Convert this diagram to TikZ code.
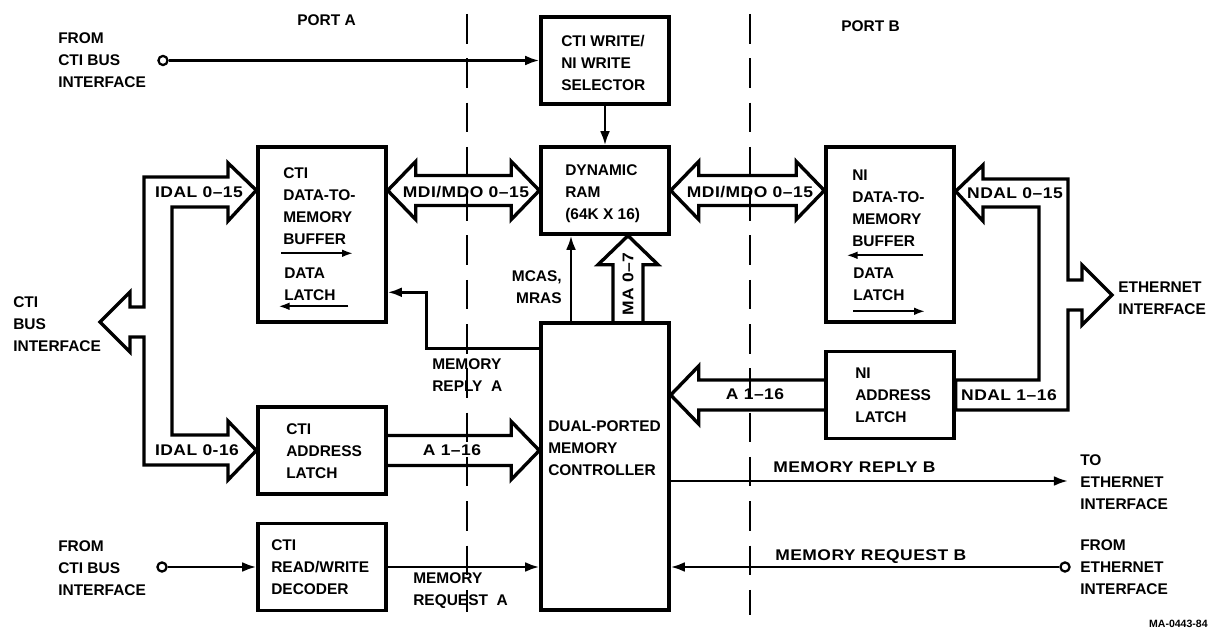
\documentclass[tikz,border=0pt]{standalone}
\usepackage{fontspec}
\setmainfont{Liberation Sans}
\usetikzlibrary{calc,arrows.meta}
\newcommand\lblfont{\fontsize{11}{15.65}\selectfont\bfseries}
\newcommand\widefont{\lblfont\addfontfeatures{FakeStretch=1.13,LetterSpace=3}}
\begin{document}
\begin{tikzpicture}[x=0.025cm,y=-0.025cm,
  box/.style={draw,line width=2.4pt,inner sep=0pt,minimum width=3.2cm},
  boxs/.style={box,minimum height=2.175cm},
  boxl/.style={box,minimum height=4.375cm},
  txt/.style={font=\lblfont,align=left,inner sep=0pt,anchor=north west},
  lbl/.style={font=\widefont,inner sep=0pt,anchor=center},
  fat/.style={draw,line width=2.4pt,line join=miter},
  sig/.style={line width=1.8pt,-{Latex[length=10pt,width=7pt]}},
  inner/.style={line width=1.6pt,-{Latex[length=8pt,width=5.5pt]}},
  divider/.style={line width=1.7pt,dash pattern=on 21pt off 10.5pt},
  term/.style={circle,draw,line width=1.6pt,inner sep=0pt,minimum size=6.5pt,fill=white}]
\fill[white] (0,0) rectangle (1213,629);
\useasboundingbox (0,0) rectangle (1213,629);

% port dividers
\draw[divider] (467,14) -- (467,612);
\draw[divider] (750,14) -- (750,615);

% boxes
\node[boxs] (sel)  at (605,60.5) {};
\node[boxs] (ram)  at (605,190.5) {};
\node[boxl] (cbuf) at (322,234.5) {};
\node[boxl] (nbuf) at (890,234.5) {};
\node[boxs] (clat) at (322,450.5) {};
\node[boxs] (dec)  at (322,567) {};
\node[box,minimum height=7.175cm] (ctrl) at (605,466.5) {};
\node[boxs] (nlat) at (890,395) {};

% box texts
\node[txt] (selT) at (561,35) {CTI WRITE/\\NI WRITE\\SELECTOR};
\node[txt] (ramT) at (565,164.5) {DYNAMIC\\RAM\\(64K X 16)};
\node[txt] (cbufT) at (283,167.5) {CTI\\DATA-TO-\\MEMORY\\BUFFER};
\node[txt] (cbufL) at (284,267.5) {DATA\\LATCH};
\node[txt] (nbufT) at (852,169.5) {NI\\DATA-TO-\\MEMORY\\BUFFER};
\node[txt] (nbufL) at (853,267.5) {DATA\\LATCH};
\node[txt] (clatT) at (286,423.5) {CTI\\ADDRESS\\LATCH};
\node[txt] (decT) at (271,539.5) {CTI\\READ/WRITE\\DECODER};
\node[txt] (ctrlT) at (548,420.5) {DUAL-PORTED\\MEMORY\\CONTROLLER};
\node[txt] (nlatT) at (855,367.5) {NI\\ADDRESS\\LATCH};

% arrows inside buffers
\draw[inner] ($(cbuf.north west)+(25,108)$) -- ($(cbuf.north west)+(97,108)$);
\draw[inner] ($(cbuf.north west)+(92,161)$) -- ($(cbuf.north west)+(22,161)$);
\draw[inner] ($(nbuf.north west)+(99,110)$) -- ($(nbuf.north west)+(22,110)$);
\draw[inner] ($(nbuf.north west)+(29,166)$) -- ($(nbuf.north west)+(101,166)$);

% outer texts
\node[txt] (portA) at (297,14.5) {PORT A};
\node[txt] (portB) at (841,20.5) {PORT B};
\node[txt] (fromCtiTop) at (58,32) {FROM\\CTI BUS\\INTERFACE};
\node[txt] (fromCtiBot) at (58,540.5) {FROM\\CTI BUS\\INTERFACE};
\node[txt] (ctiBus) at (13,296.5) {CTI\\BUS\\INTERFACE};
\node[txt] (ethBus) at (1118,281.5) {ETHERNET\\INTERFACE};
\node[txt] (toEth) at (1080,454.5) {TO\\ETHERNET\\INTERFACE};
\node[txt] (fromEth) at (1080,539.5) {FROM\\ETHERNET\\INTERFACE};
\node[font=\lblfont,align=right,inner sep=0pt,anchor=north east] (mcasT) at (562,270.5) {MCAS,\\MRAS};
\node[txt] (mrA) at (432,358.5) {MEMORY\\REPLY\ \ A};
\node[txt] (mreqA) at (413,572.5) {MEMORY\\REQUEST\ \ A};
\node[txt,font=\widefont] (mrB) at (773,461.5) {MEMORY REPLY B};
\node[txt,font=\widefont] (mreqB) at (775,549.5) {MEMORY REQUEST B};
\node[font=\fontsize{7.5}{9}\selectfont\bfseries,inner sep=0pt,anchor=base east] (code) at (1208,627) {MA-0443-84};

% terminals
\node[term] (t1) at (163,60.5) {};
\node[term] (t2) at (162,567) {};
\node[term] (t3) at (1065,567) {};
\coordinate (toEthEnd) at (1068,481);

% thin signals
\draw[sig] (t1) -- (sel);
\draw[sig] (sel) -- (ram);
\draw[sig] (t2) -- (dec);
\draw[sig] (dec) -- (ctrl.west |- dec.east);
\draw[sig] (t3) -- (ctrl.east |- t3);
\draw[sig] (ctrl.east |- toEthEnd) -- (toEthEnd);
\draw[sig] ($(ctrl.north)+(-34,0)$) -- ($(ram.south)+(-34,0)$);
\draw[sig] ($(ctrl.north west)+(0,27)$) -- ++(-113,0) |- ($(cbuf.north east)+(0,147)$);

% left CTI bus
\draw[fat] (100,322) -- (130,292) -- (130,307) -- (144,307) -- (144,177) -- (228,177) -- (228,163)
  -- ($(cbuf.north west)+(0,45)$) -- (228,221) -- (228,207) -- (172,207) -- (172,435) -- (228,435)
  -- (228,421) -- (clat.west) -- (228,480) -- (228,465) -- (144,465) -- (144,337) -- (130,337)
  -- (130,352) -- cycle;
\node[lbl] (idal1) at (199,192) {IDAL 0–15};
\node[lbl] (idal2) at (197,450) {IDAL 0-16};

% right Ethernet bus
\draw[fat] (1112,295) -- (1082,265) -- (1082,280) -- (1068,280) -- (1068,179) -- (983,179) -- (983,165)
  -- ($(nbuf.north east)+(0,46)$) -- (983,221) -- (983,207) -- (1039,207) -- (1039,380)
  -- ($(nlat.east)+(0,-15)$) -- ($(nlat.east)+(0,15)$) -- (1068,410) -- (1068,310) -- (1082,310)
  -- (1082,325) -- cycle;
\node[lbl] (ndal1) at (1015,193) {NDAL 0–15};
\node[lbl] (ndal2) at (1009,395) {NDAL 1–16};

% MDI/MDO left
\coordinate (mdiL) at (cbuf.east |- ram.west);
\draw[fat] (mdiL) -- ++(28,-29) -- ++(0,14) -- ($(ram.west)+(-28,-15)$) -- ++(0,-14) -- (ram.west)
  -- ++(-28,29) -- ++(0,-14) -- ($(mdiL)+(28,15)$) -- ++(0,14) -- cycle;
\node[lbl] (mdi1) at (466,192) {MDI/MDO 0–15};

% MDI/MDO right
\coordinate (mdiR) at (nbuf.west |- ram.east);
\draw[fat] (ram.east) -- ++(28,-29) -- ++(0,14) -- ($(mdiR)+(-28,-15)$) -- ++(0,-14) -- (mdiR)
  -- ++(-28,29) -- ++(0,-14) -- ($(ram.east)+(28,15)$) -- ++(0,14) -- cycle;
\node[lbl] (mdi2) at (750,192) {MDI/MDO 0–15};

% MA 0-7
\coordinate (maT) at ($(ram.south)+(23,0)$);
\coordinate (maB) at (maT |- ctrl.north);
\draw[fat] ($(maB)+(-15,0)$) -- ($(maT)+(-15,29)$) -- ++(-15,0) -- (maT) -- ++(30,29) -- ++(-15,0)
  -- ($(maB)+(15,0)$);
\node[lbl,rotate=90] (ma) at ($(maB)+(0,-37)$) {MA 0–7};

% A 1-16 left
\coordinate (aL) at (ctrl.west |- clat.east);
\draw[fat] ($(clat.east)+(0,-15)$) -- ($(aL)+(-28,-15)$) -- ++(0,-14) -- (aL) -- ++(-28,29)
  -- ++(0,-14) -- ($(clat.east)+(0,15)$);
\node[lbl] (a1) at (452,450) {A 1–16};

% A 1-16 right
\coordinate (aR) at (ctrl.east |- nlat.west);
\draw[fat] ($(nlat.west)+(0,-15)$) -- ($(aR)+(28,-15)$) -- ++(0,-14) -- (aR) -- ++(28,29)
  -- ++(0,-14) -- ($(nlat.west)+(0,15)$);
\node[lbl] (a2) at (755,394) {A 1–16};
\end{tikzpicture}
\end{document}
